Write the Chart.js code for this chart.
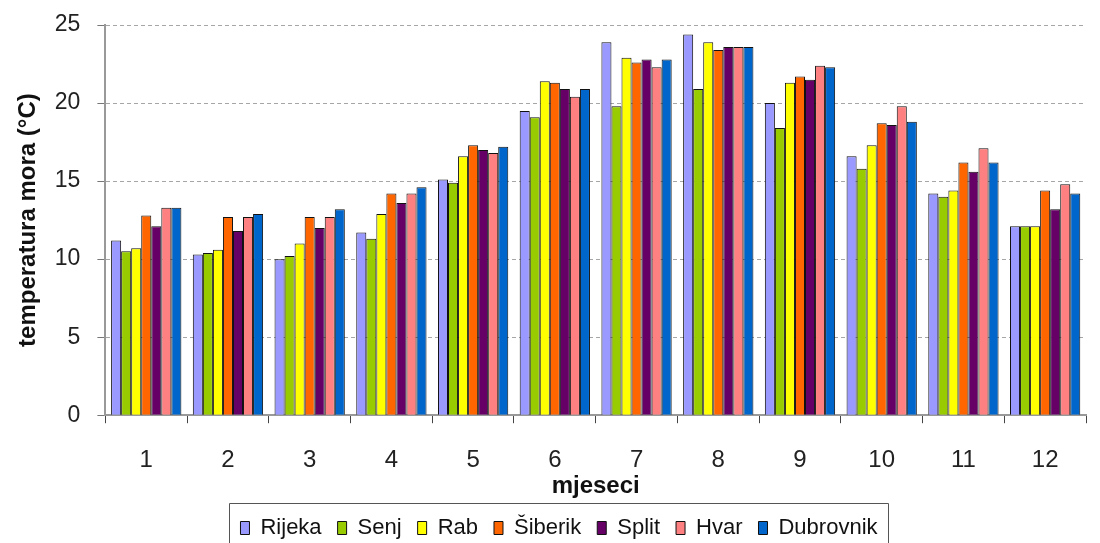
<!DOCTYPE html>
<html>
<head>
<meta charset="utf-8">
<script src="https://cdn.jsdelivr.net/npm/chart.js@4"></script>
<style>
  html, body { margin: 0; padding: 0; background: #fff; }
  #wrap { width: 1100px; height: 543px; }
</style>
</head>
<body>
<div id="wrap"><canvas id="seaChart" width="1100" height="543"></canvas></div>
<script>
const months = ["1", "2", "3", "4", "5", "6", "7", "8", "9", "10", "11", "12"];

const rijeka    = [11.2, 10.3, 10.0, 11.7, 15.1, 19.5, 23.9, 24.4, 20.0, 16.6, 14.2, 12.1];
const senj      = [10.5, 10.4, 10.2, 11.3, 14.9, 19.1, 19.8, 20.9, 18.4, 15.8, 14.0, 12.1];
const rab       = [10.7, 10.6, 11.0, 12.9, 16.6, 21.4, 22.9, 23.9, 21.3, 17.3, 14.4, 12.1];
const sibenik   = [12.8, 12.7, 12.7, 14.2, 17.3, 21.3, 22.6, 23.4, 21.7, 18.7, 16.2, 14.4];
const split     = [12.1, 11.8, 12.0, 13.6, 17.0, 20.9, 22.8, 23.6, 21.5, 18.6, 15.6, 13.2];
const hvar      = [13.3, 12.7, 12.7, 14.2, 16.8, 20.4, 22.3, 23.6, 22.4, 19.8, 17.1, 14.8];
const dubrovnik = [13.3, 12.9, 13.2, 14.6, 17.2, 20.9, 22.8, 23.6, 22.3, 18.8, 16.2, 14.2];

const yTicks = [0, 5, 10, 15, 20, 25];

const fontFamily = "'Liberation Sans', Arial, sans-serif";

function series(label, data, color) {
  return {
    label: label,
    data: data,
    backgroundColor: color,
    borderColor: "#111",
    borderWidth: 1,
    borderSkipped: "bottom"
  };
}

// open frame round the legend (its bottom edge is cut off in the original)
const legendFrame = {
  id: "legendFrame",
  afterDraw(chart) {
    const boxes = chart.legend.legendHitBoxes;
    if (!boxes || !boxes.length) return;
    let x1 = Infinity, y1 = Infinity, x2 = -Infinity;
    boxes.forEach(b => {
      x1 = Math.min(x1, b.left); y1 = Math.min(y1, b.top);
      x2 = Math.max(x2, b.left + b.width);
    });
    const left = Math.round(x1 - 11) + 0.5;
    const right = Math.round(x2 + 10) + 0.5;
    const top = Math.round(y1 - 14) + 0.5;
    const c = chart.ctx;
    c.save();
    c.strokeStyle = "#555";
    c.lineWidth = 1;
    c.beginPath();
    c.moveTo(left, chart.height + 2);
    c.lineTo(left, top);
    c.lineTo(right, top);
    c.lineTo(right, chart.height + 2);
    c.stroke();
    c.restore();
  }
};

new Chart(document.getElementById("seaChart").getContext("2d"), {
  type: "bar",
  data: {
    labels: months,
    datasets: [
      series("Rijeka", rijeka, "#9999ff"),
      series("Senj", senj, "#99cc00"),
      series("Rab", rab, "#ffff00"),
      series("Šiberik", sibenik, "#ff6600"),
      series("Split", split, "#660066"),
      series("Hvar", hvar, "#ff8080"),
      series("Dubrovnik", dubrovnik, "#0066cc")
    ]
  },
  plugins: [legendFrame],
  options: {
    responsive: false,
    animation: false,
    layout: { padding: { top: 11, right: 14, left: 32, bottom: -6 } },
    datasets: {
      bar: { categoryPercentage: 0.86, barPercentage: 1.0 }
    },
    plugins: {
      tooltip: { enabled: false },
      legend: {
        position: "bottom",
        labels: {
          color: "#111",
          font: { family: fontFamily, size: 22 },
          boxWidth: 9,
          boxHeight: 13,
          padding: 16
        }
      }
    },
    scales: {
      x: {
        grid: {
          offset: true,
          drawOnChartArea: false,
          color: "#444",
          tickLength: 8
        },
        border: { color: "#999", width: 2 },
        ticks: {
          color: "#222",
          padding: 25,
          font: { family: fontFamily, size: 24, lineHeight: 1 }
        },
        title: {
          display: true,
          text: "mjeseci",
          color: "#111",
          padding: { top: -25, bottom: 0 },
          font: { family: fontFamily, size: 24, weight: "bold" }
        }
      },
      y: {
        min: 0,
        max: 25,
        afterBuildTicks(axis) {
          axis.ticks = yTicks.map(v => ({ value: v }));
        },
        grid: {
          color: "#a6a6a6",
          lineWidth: 1,
          tickLength: 8,
          tickColor: "#777",
          tickBorderDash: [],
          drawTicks: true
        },
        border: { color: "#999", width: 2, dash: [4, 3] },
        ticks: {
          color: "#222",
          padding: 17,
          font: { family: fontFamily, size: 23, lineHeight: 0.7 }
        },
        title: {
          display: true,
          text: "temperatura mora (°C)",
          color: "#111",
          padding: { top: -18, bottom: -5 },
          font: { family: fontFamily, size: 24, weight: "bold" }
        }
      }
    }
  }
});
</script>
</body>
</html>
